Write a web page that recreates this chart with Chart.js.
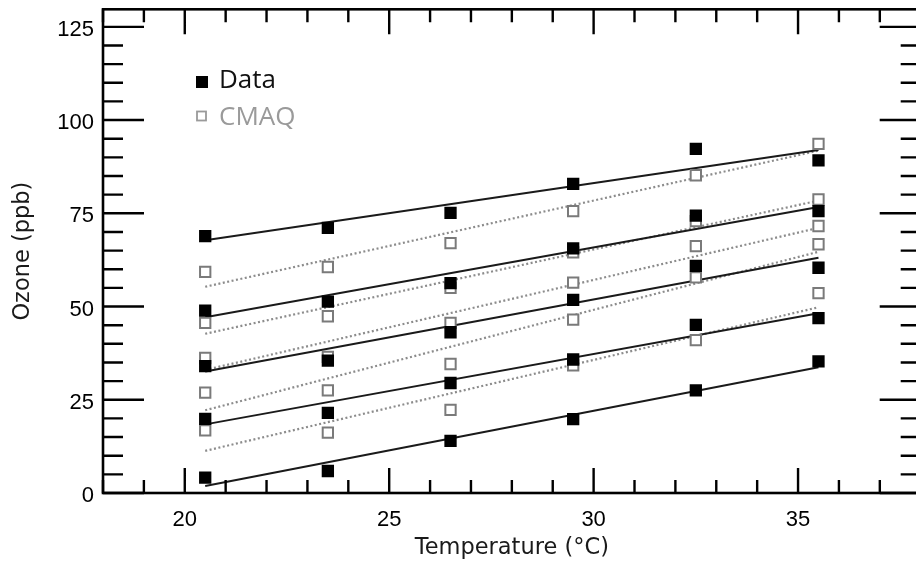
<!DOCTYPE html>
<html>
<head>
<meta charset="utf-8">
<script src="https://cdn.jsdelivr.net/npm/chart.js@4.4.0/dist/chart.umd.min.js"></script>
<style>
  html, body { margin: 0; padding: 0; background: #fff; overflow: hidden; }
  canvas { display: block; }
</style>
</head>
<body>
<canvas id="ozoneChart" width="930" height="566"></canvas>
<script>
const temperatures = [20.5, 23.5, 26.5, 29.5, 32.5, 35.5];

// observed ozone, one row per group (top to bottom)
const observed = [
    [68.9, 71.1, 75.1, 82.9, 92.3, 89.2],
    [48.9, 51.3, 56.3, 65.6, 74.4, 75.6],
    [34.0, 35.5, 43.1, 51.8, 60.9, 60.4],
    [19.9, 21.5, 29.5, 35.8, 45.1, 46.9],
    [4.1, 5.9, 14.0, 19.8, 27.5, 35.3]
];
// CMAQ modelled ozone
const modelled = [
    [59.3, 60.6, 67.0, 75.6, 85.2, 93.6],
    [45.6, 47.4, 55.0, 64.5, 72.9, 78.7],
    [36.2, 36.5, 45.6, 56.4, 66.2, 71.6],
    [26.9, 27.5, 34.6, 46.5, 57.8, 66.7],
    [16.8, 16.2, 22.3, 34.2, 41.0, 53.6]
];
// fitted lines, value at 20.5 and at 35.5
const observedFitStart = [67.8, 47.1, 32.6, 18.4, 1.9];
const observedFitEnd = [92.0, 76.7, 63.1, 48.2, 33.7];
const modelledFitStart = [55.3, 42.7, 33.0, 22.2, 11.3];
const modelledFitEnd = [91.8, 78.4, 71.1, 64.7, 49.8];

const xTicks = [20, 25, 30, 35];
const yTicks = [0, 25, 50, 75, 100, 125];

function toPoints(rows) {
    const pts = [];
    rows.forEach(row => row.forEach((v, i) => pts.push({ x: temperatures[i], y: v })));
    return pts;
}

function fitLine(start, end) {
    return [{ x: temperatures[0], y: start }, { x: temperatures[temperatures.length - 1], y: end }];
}

const datasets = [
    {
        label: 'Data',
        data: toPoints(observed),
        pointStyle: 'rect',
        pointRadius: 8.7,
        backgroundColor: '#000',
        borderColor: '#000',
        borderWidth: 0,
        showLine: false
    },
    {
        label: 'CMAQ',
        data: toPoints(modelled),
        pointStyle: 'rect',
        pointRadius: 7.3,
        backgroundColor: '#fff',
        borderColor: '#7a7a7a',
        borderWidth: 2,
        showLine: false
    }
];
observedFitStart.forEach((v, i) => {
    datasets.push({
        label: 'Data fit',
        data: fitLine(v, observedFitEnd[i]),
        showLine: true,
        borderColor: '#1a1a1a',
        borderWidth: 2,
        pointRadius: 0
    });
});
modelledFitStart.forEach((v, i) => {
    datasets.push({
        label: 'CMAQ fit',
        data: fitLine(v, modelledFitEnd[i]),
        showLine: true,
        borderColor: '#8c8c8c',
        borderDash: [2, 2.5],
        borderWidth: 2.2,
        pointRadius: 0
    });
});

// IDL style box with inward ticks on all four sides
const framePlugin = {
    id: 'frame',
    afterDraw(chart) {
        const { ctx, chartArea: a, scales: { x, y } } = chart;
        ctx.save();
        ctx.strokeStyle = '#000';
        ctx.lineWidth = 2.6;
        ctx.lineCap = 'butt';
        ctx.strokeRect(a.left, a.top, a.right - a.left, a.bottom - a.top);
        ctx.lineWidth = 2.4;
        ctx.beginPath();
        for (let v = Math.ceil(x.min); v <= x.max; v++) {
            const px = x.getPixelForValue(v);
            const len = v % 5 === 0 ? 25 : 13;
            ctx.moveTo(px, a.bottom); ctx.lineTo(px, a.bottom - len);
            ctx.moveTo(px, a.top); ctx.lineTo(px, a.top + len);
        }
        for (let v = 0; v <= y.max; v += 5) {
            const py = y.getPixelForValue(v);
            const len = v % 25 === 0 ? 41 : 20;
            ctx.moveTo(a.left, py); ctx.lineTo(a.left + len, py);
            ctx.moveTo(a.right, py); ctx.lineTo(a.right - len, py);
        }
        ctx.stroke();

        // legend
        const d0 = chart.data.datasets[0];
        const d1 = chart.data.datasets[1];
        ctx.font = '26px "Open Sans"';
        ctx.textBaseline = 'alphabetic';
        ctx.fillStyle = d0.backgroundColor;
        ctx.fillRect(196, 76, 12, 12);
        ctx.fillStyle = '#111';
        ctx.fillText(d0.label, 219, 88);
        ctx.strokeStyle = '#9a9a9a';
        ctx.lineWidth = 1.8;
        ctx.strokeRect(197, 111.5, 9, 9);
        ctx.fillStyle = '#9a9a9a';
        ctx.fillText(d1.label, 219, 125);
        ctx.restore();
    }
};

const tickFont = { family: 'Liberation Sans', size: 22 };
const titleFont = { family: 'DejaVu Sans', size: 22.5 };

const ctx = document.getElementById('ozoneChart').getContext('2d');
const ozoneChart = new Chart(ctx, {
    type: 'scatter',
    data: { datasets: datasets },
    options: {
        responsive: false,
        animation: false,
        events: [],
        layout: { padding: { top: 7, right: 7, left: 0, bottom: 0 } },
        plugins: {
            legend: { display: false },
            tooltip: { enabled: false }
        },
        scales: {
            x: {
                type: 'linear',
                min: 18,
                max: 38,
                afterBuildTicks: s => { s.ticks = xTicks.map(v => ({ value: v })); },
                afterFit: s => { s.height = 73; s.paddingLeft = 0; s.paddingRight = 0; },
                grid: { display: false, drawTicks: false },
                border: { display: false },
                ticks: { color: '#000', font: tickFont, padding: 14, maxRotation: 0, autoSkip: false },
                title: {
                    display: true,
                    text: 'Temperature (°C)',
                    color: '#1a1a1a',
                    font: titleFont,
                    padding: { top: 0, bottom: 4.5 }
                }
            },
            y: {
                type: 'linear',
                min: 0,
                max: 129.7,
                afterBuildTicks: s => { s.ticks = yTicks.map(v => ({ value: v })); },
                afterFit: s => { s.width = 103; s.paddingTop = 0; s.paddingBottom = 0; },
                grid: { display: false, drawTicks: false },
                border: { display: false },
                ticks: { color: '#000', font: tickFont, padding: 9, labelOffset: 3 },
                title: {
                    display: true,
                    text: 'Ozone (ppb)',
                    color: '#1a1a1a',
                    font: titleFont,
                    padding: { top: 9.5, bottom: 0 }
                }
            }
        }
    },
    plugins: [framePlugin]
});
</script>
</body>
</html>
